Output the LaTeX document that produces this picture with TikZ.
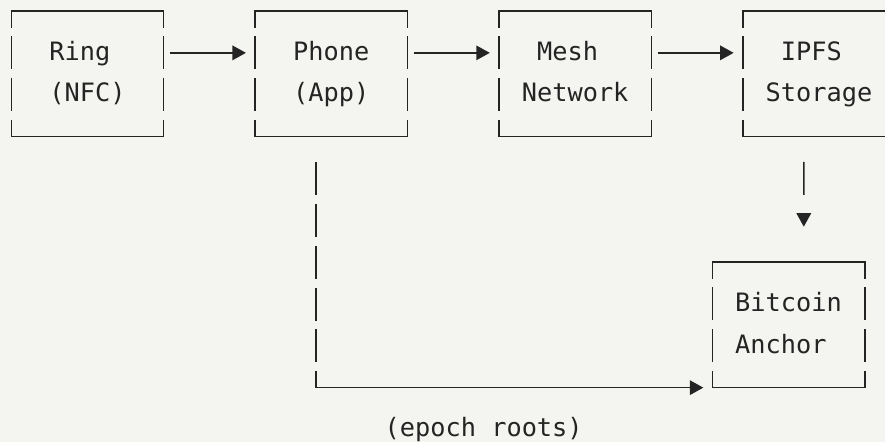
\documentclass[tikz,border=0pt]{standalone}
\usepackage{fontspec}
\newfontfamily\diagmono{DejaVu Sans Mono}
\usetikzlibrary{arrows.meta,calc}
\definecolor{bg}{RGB}{244,244,240}
\definecolor{ink}{RGB}{36,36,36}
\newcommand\asciibox[3]{%
  \node[boxnode] (#1) at ({11.3+15.24*#2+76.2},{11+41.85*#3+62.775}) {};
  \draw[hside] (#1.north west) -- (#1.north east);
  \draw[hside] (#1.south west) -- (#1.south east);
  \draw[vside] (#1.north west) -- (#1.south west);
  \draw[vside] (#1.north east) -- (#1.south east);
}
\newcommand\celltext[4]{%
  \node[lbl] (#1) at ({3.68+15.24*#2},{18.2+41.85*#3}) {#4};
}
\begin{document}
\begin{tikzpicture}[x=1pt,y=-1pt,
  boxnode/.style={draw=none,minimum width=152.4pt,minimum height=125.55pt,inner sep=0pt,outer sep=0pt},
  hside/.style={draw=ink,line width=1.5pt,line cap=rect},
  vside/.style={draw=ink,line width=1.5pt,dash pattern=on 33pt off 8.85pt,dash phase=16.5pt},
  vrun/.style={draw=ink,line width=1.5pt,dash pattern=on 33pt off 8.85pt},
  lbl/.style={anchor=base west,inner sep=0pt,outer sep=0pt,font=\diagmono\fontsize{25.3}{30}\selectfont,text=ink},
  conn/.style={draw=ink,line width=1.5pt,-{Triangle[length=13.5pt,width=14.5pt]}},
]
\fill[bg] (0,0) rectangle (885,442);
\useasboundingbox (0,0) rectangle (885,442);
\clip (0,0) rectangle (885,442);

\asciibox{ring}{0}{0}
\asciibox{phone}{16}{0}
\asciibox{mesh}{32}{0}
\asciibox{ipfs}{48}{0}
\asciibox{bitcoin}{46}{6}

\celltext{ring1}{3}{1}{Ring}
\celltext{ring2}{3}{2}{(NFC)}
\celltext{phone1}{19}{1}{Phone}
\celltext{phone2}{19}{2}{(App)}
\celltext{mesh1}{35}{1}{Mesh}
\celltext{mesh2}{34}{2}{Network}
\celltext{ipfs1}{51}{1}{IPFS}
\celltext{ipfs2}{50}{2}{Storage}
\celltext{btc1}{48}{7}{Bitcoin}
\celltext{btc2}{48}{8}{Anchor}
\celltext{epoch}{25}{10}{(epoch roots)}

\draw[conn] ($(ring.north east)+(6.2,41.85)$) -- ($(phone.north west)+(-9.2,41.85)$);
\draw[conn] ($(phone.north east)+(6.2,41.85)$) -- ($(mesh.north west)+(-9.2,41.85)$);
\draw[conn] ($(mesh.north east)+(6.2,41.85)$) -- ($(ipfs.north west)+(-9.2,41.85)$);

\draw[conn,dash pattern=on 33pt off 40pt] ($(ipfs.south west)+(60.96,25.4)$) -- ($(bitcoin.north west)+(91.44,-35.4)$);

\coordinate (pv) at ($(phone.south west)+(60.96,25.4)$);
\coordinate (corner) at (pv |- bitcoin.south west);
\draw[vrun] (pv) -- (corner);
\draw[conn,line cap=rect] (corner) -- ($(bitcoin.south west)+(-9,0)$);
\end{tikzpicture}
\end{document}
